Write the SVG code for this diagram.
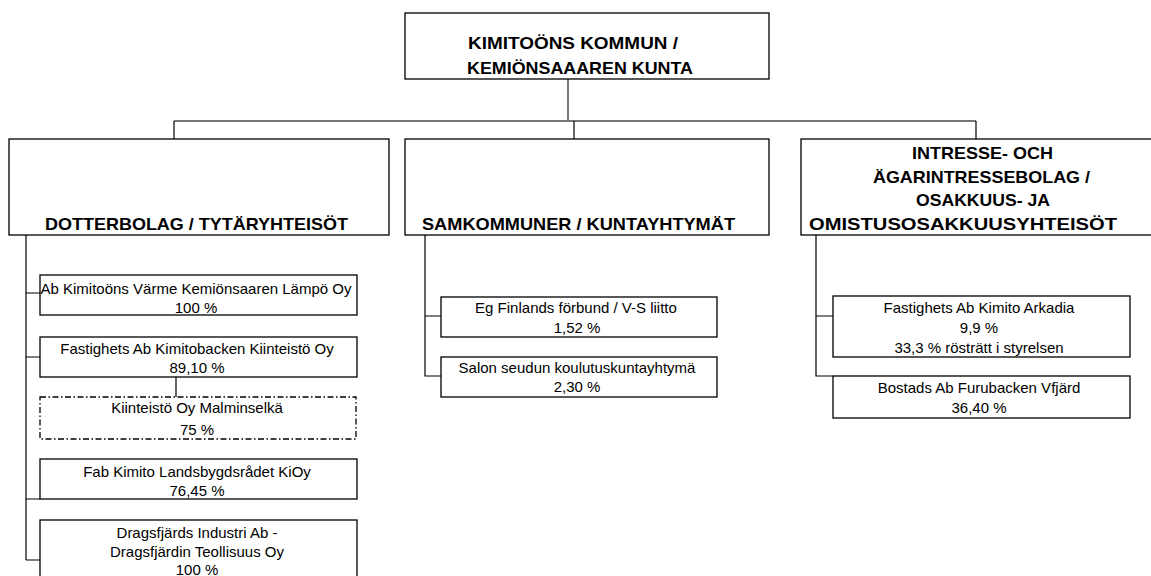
<svg xmlns="http://www.w3.org/2000/svg" width="1151" height="576" viewBox="0 0 1151 576">
<style>
.box{fill:#fff;stroke:#000;stroke-width:1.3}
.dash{fill:#fff;stroke:#000;stroke-width:1.3;stroke-dasharray:6 2.5 1.5 2.5}
.h{font-family:"Liberation Sans",Arial,sans-serif;font-weight:bold;font-size:17px;fill:#000}
.t{font-family:"Liberation Sans",Arial,sans-serif;font-size:15px;fill:#000;text-anchor:middle}
.c{fill:none;stroke:#000;stroke-width:1.2}
.g{fill:none;stroke:#777;stroke-width:2}
</style>
<rect width="1151" height="576" fill="#fff"/>
<g id="connectors">
<path class="g" d="M568 79V121M174 121H976"/>
<path class="c" d="M174 121V139M574 121V139M976 121V139"/>
<path class="c" d="M26 235V560M26 293H40M26 357H40M26 499H40M26 560H40M176 377V397"/>
<path class="c" d="M425 235V376H441M425 316H441"/>
<path class="c" d="M816 235V376H833M816 316H833"/>
</g>
<g id="root">
<rect class="box" x="405" y="13" width="364" height="66"/>
<text class="h" x="468" y="49" textLength="210" lengthAdjust="spacingAndGlyphs">KIMITOÖNS KOMMUN /</text>
<text class="h" x="467" y="74" textLength="226" lengthAdjust="spacingAndGlyphs">KEMIÖNSAAAREN KUNTA</text>
</g>
<g id="dotterbolag">
<rect class="box" x="9" y="139" width="380" height="96"/>
<text class="h" x="45" y="230" textLength="303" lengthAdjust="spacingAndGlyphs">DOTTERBOLAG / TYTÄRYHTEISÖT</text>
</g>
<g id="samkommuner">
<rect class="box" x="405" y="139" width="364" height="96"/>
<text class="h" x="422" y="230" textLength="313" lengthAdjust="spacingAndGlyphs">SAMKOMMUNER / KUNTAYHTYMÄT</text>
</g>
<g id="intresse">
<rect class="box" x="801" y="139" width="360" height="96"/>
<text class="h" x="912" y="159" textLength="141" lengthAdjust="spacingAndGlyphs">INTRESSE- OCH</text>
<text class="h" x="873" y="183" textLength="217" lengthAdjust="spacingAndGlyphs">ÄGARINTRESSEBOLAG /</text>
<text class="h" x="916" y="206" textLength="134" lengthAdjust="spacingAndGlyphs">OSAKKUUS- JA</text>
<text class="h" x="809" y="230" textLength="308" lengthAdjust="spacingAndGlyphs">OMISTUSOSAKKUUSYHTEISÖT</text>
</g>
<g id="varme">
<rect class="box" x="40" y="275" width="317" height="40"/>
<text class="t" x="196" y="294">Ab Kimitoöns Värme Kemiönsaaren Lämpö Oy</text>
<text class="t" x="196" y="313">100 %</text>
</g>
<g id="kimitobacken">
<rect class="box" x="40" y="337" width="317" height="40"/>
<text class="t" x="197" y="354">Fastighets Ab Kimitobacken Kiinteistö Oy</text>
<text class="t" x="197" y="373">89,10 %</text>
</g>
<g id="malminselka">
<rect class="dash" x="40" y="397" width="316" height="42"/>
<text class="t" x="197" y="413">Kiinteistö Oy Malminselkä</text>
<text class="t" x="197" y="435">75 %</text>
</g>
<g id="landsbygdsradet">
<rect class="box" x="40" y="459" width="317" height="40"/>
<text class="t" x="197" y="477">Fab Kimito Landsbygdsrådet KiOy</text>
<text class="t" x="197" y="496">76,45 %</text>
</g>
<g id="dragsfjard">
<rect class="box" x="40" y="520" width="317" height="70"/>
<text class="t" x="197" y="538">Dragsfjärds Industri Ab -</text>
<text class="t" x="197" y="557">Dragsfjärdin Teollisuus Oy</text>
<text class="t" x="197" y="575">100 %</text>
</g>
<g id="egfinland">
<rect class="box" x="441" y="297" width="276" height="40"/>
<text class="t" x="576" y="313">Eg Finlands förbund / V-S liitto</text>
<text class="t" x="577" y="333">1,52 %</text>
</g>
<g id="salon">
<rect class="box" x="441" y="357" width="276" height="40"/>
<text class="t" x="577" y="373">Salon seudun koulutuskuntayhtymä</text>
<text class="t" x="577" y="392">2,30 %</text>
</g>
<g id="arkadia">
<rect class="box" x="833" y="296" width="297" height="61"/>
<text class="t" x="979" y="313">Fastighets Ab Kimito Arkadia</text>
<text class="t" x="979" y="333">9,9 %</text>
<text class="t" x="979" y="353">33,3 % rösträtt i styrelsen</text>
</g>
<g id="furubacken">
<rect class="box" x="833" y="376" width="297" height="42"/>
<text class="t" x="979" y="393">Bostads Ab Furubacken Vfjärd</text>
<text class="t" x="979" y="413">36,40 %</text>
</g>
</svg>
